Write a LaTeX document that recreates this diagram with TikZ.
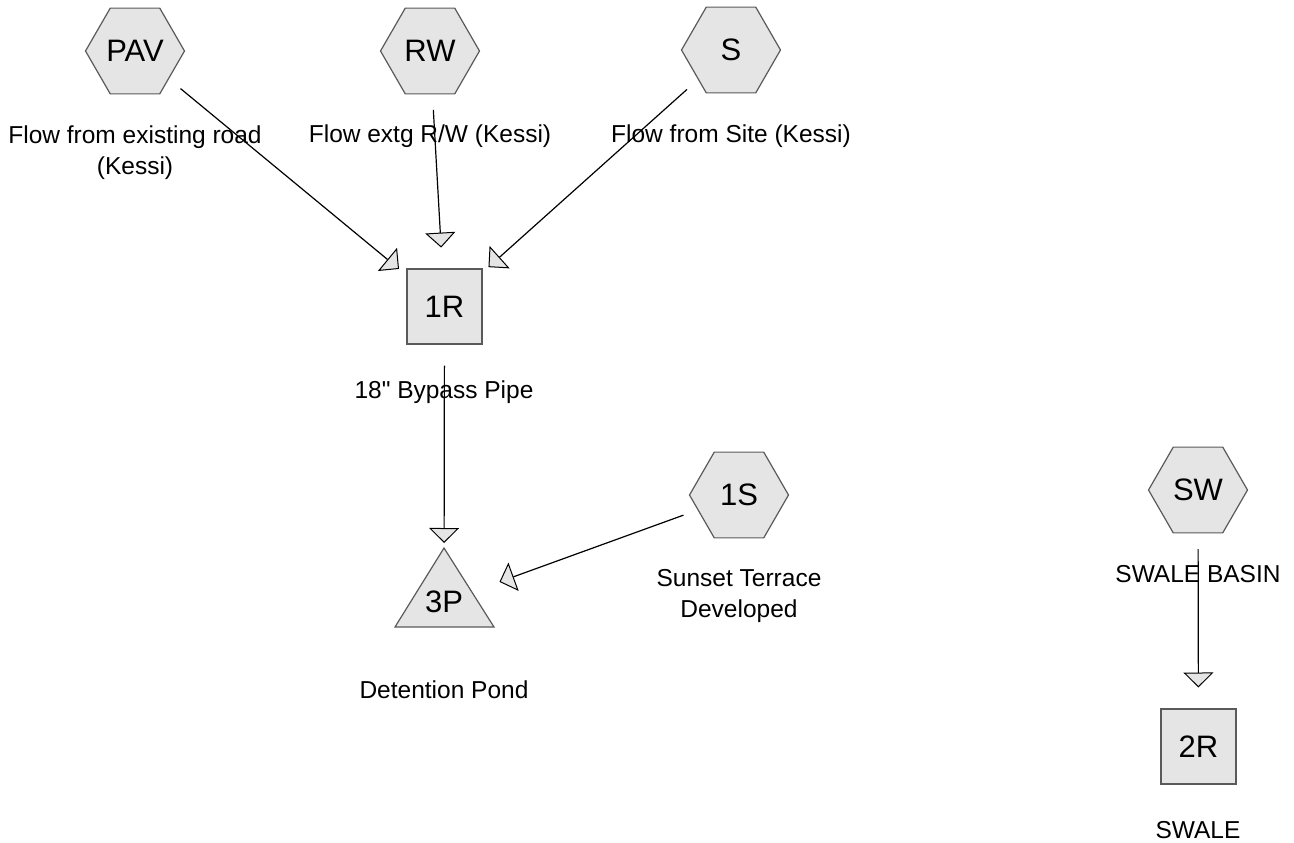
\documentclass[tikz,border=0pt]{standalone}
\usepackage{fontspec}
\setmainfont{Liberation Sans}[Ligatures=TeXOff]
\usetikzlibrary{shapes.geometric,arrows.meta}
\definecolor{nodefill}{HTML}{E5E5E5}
\definecolor{nodeborder}{HTML}{5A5A5A}
\begin{document}
\begin{tikzpicture}[x=1pt,y=-1pt,
  hexnode/.style={regular polygon, regular polygon sides=6, minimum size=99pt, inner sep=0pt, outer sep=0pt,
    draw=nodeborder, line width=1.2pt, fill=nodefill, font=\fontsize{31}{31}\selectfont},
  reachnode/.style={rectangle, minimum size=75pt, inner sep=0pt, outer sep=0pt,
    draw=nodeborder, line width=1.2pt, fill=nodefill, font=\fontsize{31}{31}\selectfont},
  pondtext/.style={inner sep=0pt, font=\fontsize{31}{31}\selectfont},
  lbl/.style={font=\fontsize{24.5}{31}\selectfont, align=center, anchor=base, inner sep=0pt},
  flow/.style={draw=black, line width=1.2pt,
    -{Triangle[length=15pt,width=30pt,fill=nodefill,line width=1pt]},
    shorten <=59pt, shorten >=59pt}
]
\useasboundingbox (0,0) rectangle (1294,843);

% subcatchments
\node[hexnode] (PAV) at (135,51) {PAV};
\node[hexnode] (RW) at (430,51) {RW};
\node[hexnode] (S) at (731,50) {S};
\node[hexnode] (1S) at (739,495) {1S};
\node[hexnode] (SW) at (1198,490) {SW};

% reaches
\node[reachnode] (1R) at (444.5,306.5) {1R};
\node[reachnode] (2R) at (1198.5,746.5) {2R};

% pond
\draw[draw=nodeborder, line width=1.2pt, fill=nodefill] (444,548) -- (494,627) -- (395,627) -- cycle;
\node[pondtext] (3P) at (444,602) {3P};

% labels (base anchor = baseline of the last line)
\node[lbl] (lPAV) at (135,174) {Flow from existing road\\(Kessi)};
\node[lbl] (lRW) at (430,142) {Flow extg R/W (Kessi)};
\node[lbl] (lS) at (731,142) {Flow from Site (Kessi)};
\node[lbl] (l1R) at (444,398) {18" Bypass Pipe};
\node[lbl] (l1S) at (739,617) {Sunset Terrace\\Developed};
\node[lbl] (l3P) at (444,698) {Detention Pond};
\node[lbl] (lSW) at (1198,582) {SWALE BASIN};
\node[lbl] (l2R) at (1198,838) {SWALE};

% connectors
\draw[flow] (PAV.center) -- (1R.center);
\draw[flow] (RW.center) -- (1R.center);
\draw[flow] (S.center) -- (1R.center);
\draw[flow] (1R.center) -- (3P.center);
\draw[flow] (1S.center) -- (3P.center);
\draw[flow] (SW.center) -- (2R.center);
\end{tikzpicture}
\end{document}
